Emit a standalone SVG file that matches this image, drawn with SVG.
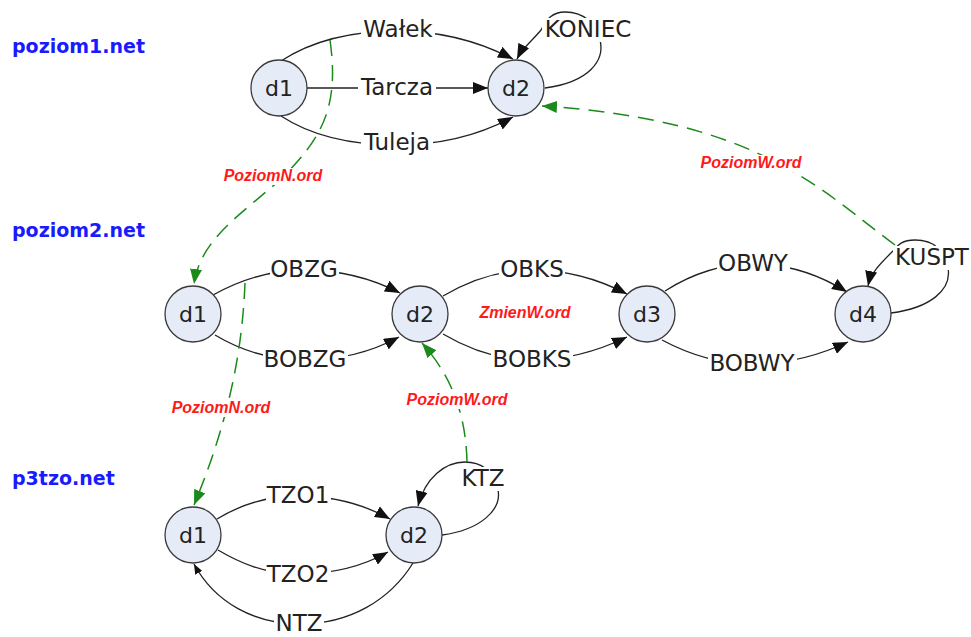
<svg xmlns="http://www.w3.org/2000/svg" width="971" height="637" viewBox="0 0 971 637">
<defs>
<marker id="ab" markerUnits="userSpaceOnUse" markerWidth="15" markerHeight="12" refX="15" refY="6" orient="auto"><path d="M0,0 L15,6 L0,12 z" fill="#111"/></marker>
<marker id="abs" markerUnits="userSpaceOnUse" markerWidth="10" markerHeight="8" refX="10" refY="4" orient="auto"><path d="M0,0 L10,4 L0,8 z" fill="#111"/></marker>
<marker id="ag" markerUnits="userSpaceOnUse" markerWidth="15" markerHeight="12" refX="15" refY="6" orient="auto"><path d="M0,0 L15,6 L0,12 z" fill="#1a8a1a"/></marker>
<style>
.n{fill:#e6ecf7;stroke:#3a3a3a;stroke-width:1.3}
.nt{font-family:"DejaVu Sans",Verdana,sans-serif;font-size:22px;fill:#222;text-anchor:middle}
.e{fill:none;stroke:#222;stroke-width:1.3}
.g{fill:none;stroke:#1a8a1a;stroke-width:1.5;stroke-dasharray:16 9}
.bg{fill:#fff}
.el{font-family:"DejaVu Sans",Verdana,sans-serif;font-size:23px;fill:#222;text-anchor:middle}
.rl{font-family:"Liberation Sans",Arial,sans-serif;font-size:16px;font-weight:bold;font-style:italic;fill:#ff1a1a;text-anchor:middle}
.bl{font-family:"DejaVu Sans",Verdana,sans-serif;font-size:19px;font-weight:bold;fill:#1a1aff}
</style>
</defs>
<rect width="971" height="637" fill="#fff"/>
<g id="titles">
<text class="bl" x="12" y="53">poziom1.net</text>
<text class="bl" x="12" y="237">poziom2.net</text>
<text class="bl" x="12" y="485">p3tzo.net</text>
</g>
<g id="connectors">
<path class="e" d="M281,61 C310,42 350,31 398,31 C440,31 480,42 513,59" marker-end="url(#ab)"/>
<path class="e" d="M307,88 L488,88" marker-end="url(#ab)"/>
<path class="e" d="M281,116 C310,135 350,145 397,145 C440,145 480,135 513,117" marker-end="url(#ab)"/>
<path class="e" d="M545,88 C590,82 605,60 600,40 C597,25 585,12 565,12 C550,12 546,22 541,30 C533,40 523,47 517,59" marker-end="url(#ab)"/>
<path class="e" d="M213,295 C240,280 270,270 304,270 C345,270 375,280 400,293" marker-end="url(#ab)"/>
<path class="e" d="M215,335 C240,350 270,360 305,360 C345,360 375,350 399,337" marker-end="url(#ab)"/>
<path class="e" d="M443,296 C470,280 500,270 532,270 C570,270 600,280 627,294" marker-end="url(#ab)"/>
<path class="e" d="M443,334 C470,350 500,360 532,360 C570,360 600,350 627,337" marker-end="url(#ab)"/>
<path class="e" d="M665,291 C690,275 720,264 753,264 C790,264 820,275 847,292" marker-end="url(#ab)"/>
<path class="e" d="M662,340 C690,355 720,364 752,364 C790,364 820,355 848,342" marker-end="url(#ab)"/>
<path class="e" d="M891,313 C930,308 952,290 948,268 C945,252 935,240 915,240 C902,240 898,245 893,251 C882,262 871,272 868,286" marker-end="url(#ab)"/>
<path class="e" d="M217,519 C240,505 265,496 298,496 C335,496 365,505 390,519" marker-end="url(#ab)"/>
<path class="e" d="M218,550 C240,563 265,574 298,574 C335,574 365,565 388,552" marker-end="url(#ab)"/>
<path class="e" d="M442,535 C480,530 502,510 498,490 C494,470 480,462 465,462 C445,462 425,478 418,506" marker-end="url(#ab)"/>
<path class="e" d="M413,563 C390,600 350,624 300,624 C255,624 215,603 194,564" marker-end="url(#abs)"/>
<path class="g" d="M330,40 C340,110 320,140 280,180 C240,215 200,240 194,284" marker-end="url(#ag)"/>
<path class="g" d="M895,245 C820,190 760,120 542,106" marker-end="url(#ag)"/>
<path class="g" d="M245,283 C242,360 225,430 194,505" marker-end="url(#ag)"/>
<path class="g" d="M467,462 C466,420 455,380 422,343" marker-end="url(#ag)"/>
</g>
<g id="edge-labels">
<rect class="bg" x="361" y="18" width="74" height="24"/><text class="el" x="398" y="37">Wałek</text>
<rect class="bg" x="358" y="76" width="78" height="24"/><text class="el" x="397" y="95">Tarcza</text>
<rect class="bg" x="361" y="130" width="72" height="26"/><text class="el" x="397" y="150">Tuleja</text>
<rect class="bg" x="542" y="18" width="92" height="24"/><text class="el" x="588" y="37">KONIEC</text>
<rect class="bg" x="270" y="258" width="69" height="24"/><text class="el" x="304" y="277">OBZG</text>
<rect class="bg" x="263" y="348" width="85" height="24"/><text class="el" x="305" y="367">BOBZG</text>
<rect class="bg" x="499" y="258" width="66" height="24"/><text class="el" x="532" y="277">OBKS</text>
<rect class="bg" x="491" y="348" width="82" height="24"/><text class="el" x="532" y="367">BOBKS</text>
<rect class="bg" x="717" y="252" width="73" height="24"/><text class="el" x="753" y="271">OBWY</text>
<rect class="bg" x="708" y="352" width="89" height="24"/><text class="el" x="752" y="371">BOBWY</text>
<rect class="bg" x="893" y="246" width="78" height="24"/><text class="el" x="932" y="265">KUSPT</text>
<rect class="bg" x="266" y="484" width="65" height="24"/><text class="el" x="298" y="503">TZO1</text>
<rect class="bg" x="266" y="563" width="65" height="24"/><text class="el" x="298" y="582">TZO2</text>
<rect class="bg" x="459" y="467" width="49" height="24"/><text class="el" x="483" y="486">KTZ</text>
<rect class="bg" x="274" y="612" width="50" height="22"/><text class="el" x="299" y="631">NTZ</text>
</g>
<g id="ord-labels">
<rect class="bg" x="222" y="168" width="102" height="17"/><text class="rl" x="273" y="181">PoziomN.ord</text>
<rect class="bg" x="699" y="155" width="104" height="17"/><text class="rl" x="751" y="168">PoziomW.ord</text>
<text class="rl" x="525" y="318">ZmienW.ord</text>
<rect class="bg" x="171" y="400" width="100" height="17"/><text class="rl" x="221" y="413">PoziomN.ord</text>
<rect class="bg" x="405" y="392" width="104" height="17"/><text class="rl" x="457" y="405">PoziomW.ord</text>
</g>
<g id="n1d1"><circle class="n" cx="279" cy="88" r="28"/><text class="nt" x="279" y="96">d1</text></g>
<g id="n1d2"><circle class="n" cx="516" cy="88" r="28"/><text class="nt" x="516" y="96">d2</text></g>
<g id="n2d1"><circle class="n" cx="193" cy="314" r="28"/><text class="nt" x="193" y="322">d1</text></g>
<g id="n2d2"><circle class="n" cx="420" cy="314" r="28"/><text class="nt" x="420" y="322">d2</text></g>
<g id="n2d3"><circle class="n" cx="647" cy="314" r="28"/><text class="nt" x="647" y="322">d3</text></g>
<g id="n2d4"><circle class="n" cx="863" cy="314" r="28"/><text class="nt" x="863" y="322">d4</text></g>
<g id="n3d1"><circle class="n" cx="193" cy="535" r="28"/><text class="nt" x="193" y="543">d1</text></g>
<g id="n3d2"><circle class="n" cx="414" cy="535" r="28"/><text class="nt" x="414" y="543">d2</text></g>
</svg>
